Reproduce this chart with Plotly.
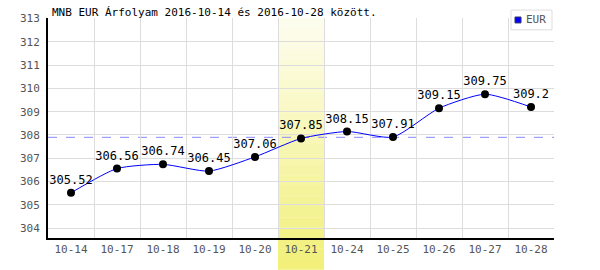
import plotly.graph_objects as go

dates = ["10-14", "10-17", "10-18", "10-19", "10-20", "10-21",
         "10-24", "10-25", "10-26", "10-27", "10-28"]
rates = [305.52, 306.56, 306.74, 306.45, 307.06, 307.85,
         308.15, 307.91, 309.15, 309.75, 309.2]
ref_level = 307.9
highlight = "10-21"
series_name = "EUR"
labels = [f"{v:g}" for v in rates]

MONO = "DejaVu Sans Mono"
W, H = 600, 270
L, R, T, B = 48, 46, 15, 32
PW, PH = W - L - R, H - T - B


def px(x):
    return (x - L) / PW


def py(y):
    return 1 - (y - T) / PH


fig = go.Figure()

fig.add_trace(go.Scatter(
    x=dates, y=rates, mode="lines+markers+text",
    line=dict(color="#0000ff", width=1, shape="spline", smoothing=0.6),
    marker=dict(color="black", size=8),
    text=labels, textposition="top center",
    textfont=dict(family=MONO, size=12, color="black"),
    showlegend=False, hoverinfo="skip", cliponaxis=False,
))

hi = dates.index(highlight)
n = 24
y_top = 1.0
y_bot = -B / PH
for i in range(n):
    t = i / (n - 1)
    r = 253 + (242 - 253) * t
    g = 253 + (240 - 253) * t
    b = 238 + (122 - 238) * t
    fig.add_shape(type="rect", xref="x", yref="paper",
                  x0=hi - 0.5, x1=hi + 0.5,
                  y0=y_top - (y_top - y_bot) * (i + 1) / n - 0.001,
                  y1=y_top - (y_top - y_bot) * i / n,
                  fillcolor=f"rgb({r:.0f},{g:.0f},{b:.0f})",
                  line=dict(width=0), layer="below")

fig.add_shape(type="line", xref="paper", yref="y", x0=0, x1=1,
              y0=ref_level, y1=ref_level,
              line=dict(color="#8888ff", width=1, dash="dash"), layer="below")

# manual compact legend
fig.add_shape(type="rect", xref="paper", yref="paper",
              x0=px(511), x1=px(552), y0=py(27), y1=py(7),
              fillcolor="white", line=dict(color="#dddddd", width=1),
              layer="above")
fig.add_shape(type="rect", xref="paper", yref="paper",
              x0=px(515), x1=px(521), y0=py(20), y1=py(14),
              fillcolor="#0000ff", line=dict(color="#333366", width=1),
              layer="above")
fig.add_annotation(xref="paper", yref="paper", x=px(524), y=py(17),
                   xanchor="left", yanchor="middle", showarrow=False,
                   text=series_name,
                   font=dict(family=MONO, size=11, color="#555555"))

fig.update_layout(
    width=W, height=H,
    margin=dict(l=L, r=R, t=T, b=B),
    paper_bgcolor="white", plot_bgcolor="white",
    font=dict(family=MONO, size=11, color="#555555"),
    title=dict(text="MNB EUR Árfolyam 2016-10-14 és 2016-10-28 között.",
               x=52 / W, xanchor="left", y=1 - 12 / H, yanchor="middle",
               font=dict(family=MONO, size=11, color="black")),
    showlegend=False,
    xaxis=dict(type="category", range=[-0.5, len(dates) - 0.5],
               showgrid=True, gridcolor="#dddddd", gridwidth=1,
               tickson="boundaries", ticks="", showline=True,
               linecolor="black", linewidth=2, zeroline=False,
               tickfont=dict(family=MONO, size=11, color="#555555"),
               fixedrange=True),
    yaxis=dict(range=[303.58, 313.02], dtick=1, tick0=304,
               showgrid=True, gridcolor="#dddddd", gridwidth=1,
               ticks="", showline=True, linecolor="black", linewidth=2,
               zeroline=False, ticklabelstandoff=4,
               tickfont=dict(family=MONO, size=11, color="#555555"),
               fixedrange=True),
)

fig.write_html("out.html")
